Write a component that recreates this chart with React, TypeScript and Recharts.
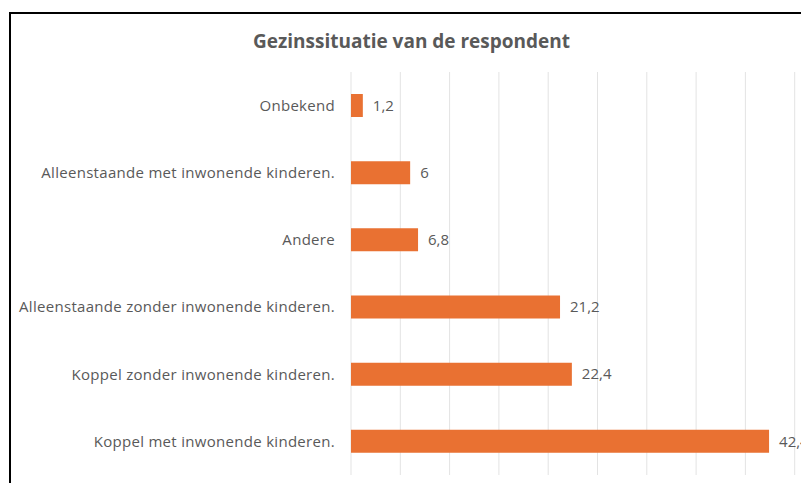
import React from "react";
import { BarChart, Bar, XAxis, YAxis, CartesianGrid, LabelList } from "recharts";

// Gezinssituatie van de respondent (%)
const categories = [
  "Onbekend",
  "Alleenstaande met inwonende kinderen.",
  "Andere",
  "Alleenstaande zonder inwonende kinderen.",
  "Koppel zonder inwonende kinderen.",
  "Koppel met  inwonende kinderen.",
];
const values = [1.2, 6, 6.8, 21.2, 22.4, 42.4];
const xTicks = [0, 5, 10, 15, 20, 25, 30, 35, 40, 45, 50];

const data = categories.map((name, i) => ({ name, value: values[i] }));

const BAR_COLOR = "#E97132";
const TEXT_COLOR = "#595959";
const FONT = "'Open Sans', 'Noto Sans', sans-serif";

const fmt = (v: any) => String(v).replace(".", ",");

export default function App() {
  return (
    <div
      style={{
        position: "fixed",
        left: 0,
        top: 0,
        width: 801,
        height: 483,
        overflow: "hidden",
        background: "#fff",
        fontFamily: FONT,
      }}
    >
      {/* chart frame, cut off at right and bottom */}
      <div
        style={{
          position: "absolute",
          left: 9,
          top: 12,
          width: 900,
          height: 600,
          borderLeft: "2px solid #000",
          borderTop: "2px solid #000",
        }}
      />
      <div
        style={{
          position: "absolute",
          left: 0,
          top: 28,
          width: 823,
          textAlign: "center",
          fontSize: 19,
          fontWeight: 700,
          color: TEXT_COLOR,
        }}
      >
        Gezinssituatie van de respondent
      </div>
      <div style={{ position: "absolute", left: 0, top: 0 }}>
        <BarChart
          width={900}
          height={520}
          data={data}
          layout="vertical"
          margin={{ top: 72, right: 56, bottom: 45, left: 11 }}
          barSize={23}
        >
          <CartesianGrid horizontal={false} stroke="#e3e3e3" strokeWidth={1} />
          <XAxis type="number" domain={[0, 50]} ticks={xTicks} hide />
          <YAxis
            type="category"
            dataKey="name"
            width={340}
            axisLine={false}
            tickLine={false}
            tickMargin={10}
            tick={{ fill: TEXT_COLOR, fontSize: 15, fontFamily: FONT, letterSpacing: 0.3 }}
          />
          <Bar dataKey="value" fill={BAR_COLOR} isAnimationActive={false}>
            <LabelList
              dataKey="value"
              position="right"
              offset={10}
              formatter={fmt}
              fill={TEXT_COLOR}
              fontSize={15}
              fontFamily={FONT}
            />
          </Bar>
        </BarChart>
      </div>
    </div>
  );
}
